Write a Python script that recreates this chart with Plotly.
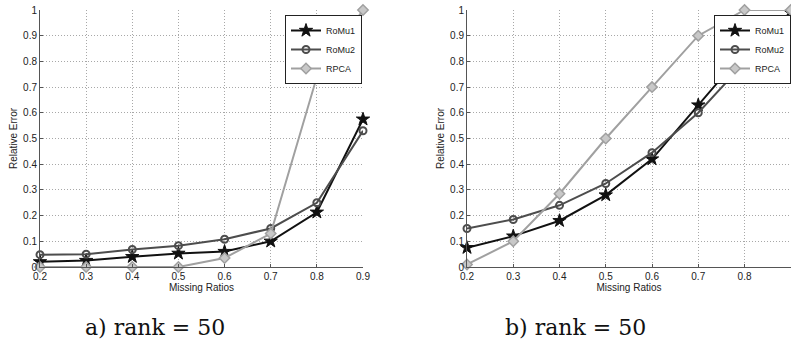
import plotly.graph_objects as go

ratios = [0.2, 0.3, 0.4, 0.5, 0.6, 0.7, 0.8, 0.9]
tick_vals_x = [0.2, 0.3, 0.4, 0.5, 0.6, 0.7, 0.8, 0.9]
tick_text_x = ["0.2", "0.3", "0.4", "0.5", "0.6", "0.7", "0.8", "0.9"]
tick_vals_y = [0, 0.1, 0.2, 0.3, 0.4, 0.5, 0.6, 0.7, 0.8, 0.9, 1]
tick_text_y = ["0", "0.1", "0.2", "0.3", "0.4", "0.5", "0.6", "0.7", "0.8", "0.9", "1"]

# panel a)
a_romu1 = [0.020, 0.025, 0.040, 0.053, 0.060, 0.100, 0.213, 0.575]
a_romu2 = [0.048, 0.050, 0.068, 0.083, 0.108, 0.150, 0.250, 0.530]
a_rpca = [0.000, 0.000, 0.000, 0.000, 0.035, 0.130, 0.740, 1.000]

# panel b)
b_romu1 = [0.075, 0.120, 0.180, 0.280, 0.420, 0.630, 0.840, 0.990]
b_romu2 = [0.150, 0.185, 0.240, 0.325, 0.445, 0.600, 0.795, 0.955]
b_rpca = [0.010, 0.100, 0.285, 0.500, 0.700, 0.900, 1.000, 1.000]

captions = ["a) rank = 50", "b) rank = 50"]
series_names = ["RoMu1", "RoMu2", "RPCA"]

W, H = 791, 345
ML, MR, MT, MB = 40, 0, 10, 78
PW, PH = W - ML - MR, H - MT - MB

styles = [
    dict(color="#111111", symbol="star", size=10, fill="#111111", lw=1),
    dict(color="#4d4d4d", symbol="circle-open", size=7, fill="#4d4d4d", lw=2),
    dict(color="#a0a0a0", symbol="diamond", size=8, fill="#c8c8c8", lw=1.5),
]

fig = go.Figure()
panels = [(a_romu1, a_romu2, a_rpca), (b_romu1, b_romu2, b_rpca)]
for p, data in enumerate(panels):
    xa = "x" if p == 0 else "x2"
    ya = "y" if p == 0 else "y2"
    lg = "legend" if p == 0 else "legend2"
    for i, vals in enumerate(data):
        st = styles[i]
        fig.add_trace(go.Scatter(
            x=ratios, y=vals, name=series_names[i], mode="lines+markers",
            xaxis=xa, yaxis=ya, legend=lg, cliponaxis=False,
            line=dict(color=st["color"], width=2),
            marker=dict(symbol=st["symbol"], size=st["size"], color=st["fill"],
                        line=dict(color=st["color"], width=st["lw"])),
        ))

axis_font = dict(family="Liberation Sans, Arial", size=10, color="#222222")

def xaxis(domain, rng):
    return dict(domain=domain, range=rng, tickvals=tick_vals_x, ticktext=tick_text_x,
                automargin=False,
                showgrid=True, gridcolor="#a8a8a8", griddash="1px,2px", gridwidth=1,
                showline=True, linecolor="#555555", linewidth=1,
                ticks="inside", ticklen=3, tickcolor="#555555",
                zeroline=False, tickfont=axis_font,
                title=dict(text="Missing Ratios", font=axis_font, standoff=2))

def yaxis(anchor):
    return dict(domain=[0, 1], range=[0, 1], tickvals=tick_vals_y, ticktext=tick_text_y,
                anchor=anchor, automargin=False,
                showgrid=True, gridcolor="#a8a8a8", griddash="1px,2px", gridwidth=1,
                showline=True, linecolor="#555555", linewidth=1,
                ticks="inside", ticklen=3, tickcolor="#555555",
                zeroline=False, tickfont=axis_font,
                title=dict(text="Relative Error", font=axis_font, standoff=3))

leg_font = dict(family="Liberation Sans, Arial", size=9, color="#222222")
fig.update_layout(
    width=W, height=H,
    margin=dict(l=ML, r=MR, t=MT, b=MB),
    paper_bgcolor="white", plot_bgcolor="white",
    showlegend=True,
    xaxis=xaxis([0, 323 / PW], [0.2, 0.9]),
    yaxis=yaxis("x"),
    xaxis2=dict(xaxis([(467 - ML) / PW, 1.0], [0.2, 0.9005]), anchor="y2"),
    yaxis2=yaxis("x2"),
    legend=dict(x=(362 - ML) / PW, y=1 - 5 / PH, xanchor="right", yanchor="top",
                bgcolor="white", bordercolor="#222222", borderwidth=1,
                font=leg_font, tracegroupgap=0, itemwidth=30),
    legend2=dict(x=1.0, y=1 - 5 / PH, xanchor="right", yanchor="top",
                 bgcolor="white", bordercolor="#222222", borderwidth=1,
                 font=leg_font, tracegroupgap=0, itemwidth=30),
)

for k, cx in enumerate([155, 575]):
    fig.add_annotation(text=captions[k], x=(cx - ML) / PW, y=(H - MB - 327) / PH,
                       xref="paper", yref="paper",
                       showarrow=False, xanchor="center", yanchor="middle",
                       font=dict(family="DejaVu Serif, Liberation Serif", size=22, color="#111111"))

fig.write_html("out.html", config={"displayModeBar": False},
               post_script="document.body.style.margin='0';document.body.style.overflow='hidden';")
